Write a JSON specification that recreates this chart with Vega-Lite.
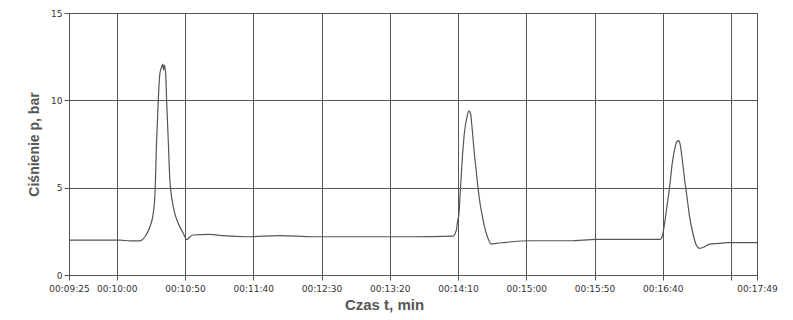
{
  "$schema": "https://vega.github.io/schema/vega-lite/v6.json",
  "autosize": {"type": "none"},
  "width": 688,
  "height": 262,
  "padding": {"left": 69, "top": 13, "right": 36, "bottom": 45},
  "background": "white",
  "config": {
    "view": {"stroke": "#555", "strokeWidth": 1},
    "axis": {
      "gridColor": "#555", "gridOpacity": 1, "gridWidth": 1,
      "domainColor": "#555", "tickColor": "#555",
      "labelFont": "DejaVu Sans", "labelFontSize": 9, "labelColor": "#333",
      "titleFont": "Liberation Sans", "titleFontWeight": "bold", "titleColor": "#555"
    }
  },
  "data": {"values": [
    {"t": 565, "p": 2.0}, {"t": 587.7, "p": 2.0}, {"t": 602.3, "p": 2.0}, {"t": 609.7, "p": 1.95},
    {"t": 617, "p": 1.95}, {"t": 618.4, "p": 2.0}, {"t": 620.6, "p": 2.19}, {"t": 624.3, "p": 2.76},
    {"t": 626.7, "p": 3.53}, {"t": 628, "p": 4.68}, {"t": 629.2, "p": 7.73}, {"t": 630.4, "p": 10.02},
    {"t": 631.6, "p": 11.55}, {"t": 632.9, "p": 11.92}, {"t": 633.6, "p": 12.08}, {"t": 634.3, "p": 11.73},
    {"t": 634.8, "p": 12.02}, {"t": 635.8, "p": 11.55}, {"t": 636.5, "p": 10.02}, {"t": 637.7, "p": 7.73},
    {"t": 638.9, "p": 5.44}, {"t": 641.4, "p": 3.91}, {"t": 645, "p": 2.96}, {"t": 648.7, "p": 2.39},
    {"t": 651.2, "p": 2.03}, {"t": 653.6, "p": 2.19}, {"t": 656, "p": 2.29}, {"t": 668.2, "p": 2.33},
    {"t": 678, "p": 2.25}, {"t": 695.1, "p": 2.19}, {"t": 719.5, "p": 2.25}, {"t": 743.8, "p": 2.19},
    {"t": 768.3, "p": 2.19}, {"t": 792.7, "p": 2.19}, {"t": 817, "p": 2.19}, {"t": 846.3, "p": 2.22},
    {"t": 848.8, "p": 2.58}, {"t": 849.6, "p": 3.05}, {"t": 850.7, "p": 3.53}, {"t": 851.7, "p": 4.87},
    {"t": 853.2, "p": 6.77}, {"t": 854.9, "p": 8.3}, {"t": 856.6, "p": 9.06}, {"t": 858, "p": 9.4},
    {"t": 859.1, "p": 9.26}, {"t": 860.2, "p": 8.49}, {"t": 861.7, "p": 7.16}, {"t": 863.5, "p": 5.82},
    {"t": 865.4, "p": 4.48}, {"t": 868.3, "p": 3.15}, {"t": 871.5, "p": 2.19}, {"t": 874.4, "p": 1.77},
    {"t": 878.1, "p": 1.81}, {"t": 882.9, "p": 1.85}, {"t": 902.5, "p": 1.96}, {"t": 931.8, "p": 1.96},
    {"t": 951.3, "p": 2.04}, {"t": 975.7, "p": 2.04}, {"t": 997.6, "p": 2.04}, {"t": 998.9, "p": 2.1},
    {"t": 1000.1, "p": 2.39}, {"t": 1001.3, "p": 2.96}, {"t": 1003, "p": 3.91}, {"t": 1005, "p": 5.05},
    {"t": 1006.9, "p": 6.39}, {"t": 1008.6, "p": 7.16}, {"t": 1010.3, "p": 7.63}, {"t": 1011.8, "p": 7.69},
    {"t": 1012.8, "p": 7.44}, {"t": 1014.3, "p": 6.58}, {"t": 1016, "p": 5.44}, {"t": 1017.7, "p": 4.48},
    {"t": 1019.6, "p": 3.34}, {"t": 1022, "p": 2.39}, {"t": 1024.5, "p": 1.72}, {"t": 1026.9, "p": 1.53},
    {"t": 1030.6, "p": 1.62}, {"t": 1034.2, "p": 1.77}, {"t": 1041.5, "p": 1.81}, {"t": 1046.5, "p": 1.85},
    {"t": 1069, "p": 1.85}
  ]},
  "mark": {"type": "line", "color": "#555", "strokeWidth": 1.2, "clip": true, "interpolate": "monotone"},
  "encoding": {
    "x": {
      "field": "t", "type": "quantitative",
      "scale": {"domain": [565, 1069], "nice": false, "zero": false},
      "axis": {
        "values": [565, 600, 650, 700, 750, 800, 850, 900, 950, 1000, 1050, 1069],
        "labelExpr": "datum.value == 1050 ? '' : '00:' + format(floor(datum.value / 60), '02d') + ':' + format(datum.value % 60, '02d')",
        "labelOverlap": false, "labelBound": false, "labelFlush": false,
        "tickSize": 5, "labelPadding": 4,
        "title": "Czas t, min", "titleFontSize": 15, "titlePadding": 4,
        "titleX": 315, "titleAlign": "center"
      }
    },
    "y": {
      "field": "p", "type": "quantitative",
      "scale": {"domain": [0, 15], "nice": false},
      "axis": {
        "values": [0, 5, 10, 15],
        "tickSize": 5, "labelPadding": 2,
        "title": "Ciśnienie p, bar", "titleFontSize": 14, "titlePadding": 9
      }
    }
  }
}
